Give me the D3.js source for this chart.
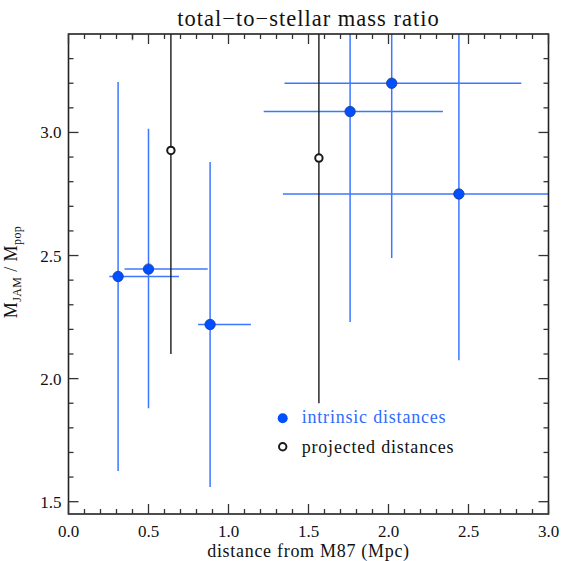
<!DOCTYPE html>
<html>
<head>
<meta charset="utf-8">
<script src="https://cdn.jsdelivr.net/npm/d3@7"></script>
<style>
  html, body { margin: 0; padding: 0; background: #fff; }
  svg { display: block; }
  text { font-family: "Liberation Serif", "DejaVu Serif", serif; fill: #111; }
</style>
</head>
<body>
<script>
// Galaxies with intrinsic (3D) distances from M87
const intrinsicDist    = [0.31, 0.50, 0.885, 1.76, 2.02, 2.44, 0.40];
const intrinsicDistLo  = [0.255, 0.35, 0.81, 1.22, 1.35, 1.34, 0.30];
const intrinsicDistHi  = [0.69, 0.87, 1.14, 2.34, 2.83, 3.20, 0.50];
const intrinsicRatio   = [2.415, 2.445, 2.22, 3.085, 3.20, 2.75, 3.65];
const intrinsicRatioLo = [1.625, 1.88, 1.56, 2.23, 2.49, 2.075, 3.375];
const intrinsicRatioHi = [3.205, 3.015, 2.88, 3.60, 3.60, 3.60, 3.90];

// Galaxies with projected distances only
const projectedDist    = [0.64, 1.565];
const projectedRatio   = [2.927, 2.896];
const projectedRatioLo = [2.10, 1.90];
const projectedRatioHi = [3.60, 3.60];

const xTicks = [0.0, 0.5, 1.0, 1.5, 2.0, 2.5, 3.0];
const yTicks = [1.5, 2.0, 2.5, 3.0];

const W = 567, H = 561;
const x0 = 68.5, x1 = 548.5, yTop = 34, yBot = 514;

const x = d3.scaleLinear().domain([0, 3]).range([x0, x1]);
const y = d3.scaleLinear().domain([1.45, 3.4]).range([yBot, yTop]);

const blueBar = "#3b78ff", bluePt = "#0050ff", ink = "#1a1a1a";

const svg = d3.select("body").append("svg").attr("width", W).attr("height", H);

svg.append("defs").append("clipPath").attr("id", "plot-clip")
  .append("rect").attr("x", x0).attr("y", yTop).attr("width", x1 - x0).attr("height", yBot - yTop);

const plot = svg.append("g").attr("clip-path", "url(#plot-clip)");

const intrinsic = intrinsicDist.map((d, i) => ({
  d, dLo: intrinsicDistLo[i], dHi: intrinsicDistHi[i],
  r: intrinsicRatio[i], rLo: intrinsicRatioLo[i], rHi: intrinsicRatioHi[i]
}));
const projected = projectedDist.map((d, i) => ({
  d, r: projectedRatio[i], rLo: projectedRatioLo[i], rHi: projectedRatioHi[i]
}));

// error bars: intrinsic (blue), horizontal and vertical
plot.append("g").selectAll("line").data(intrinsic).join("line")
  .attr("x1", p => x(p.dLo)).attr("x2", p => x(p.dHi))
  .attr("y1", p => y(p.r)).attr("y2", p => y(p.r))
  .attr("stroke", blueBar).attr("stroke-width", 1.5);
plot.append("g").selectAll("line").data(intrinsic).join("line")
  .attr("x1", p => x(p.d)).attr("x2", p => x(p.d))
  .attr("y1", p => y(p.rLo)).attr("y2", p => y(p.rHi))
  .attr("stroke", blueBar).attr("stroke-width", 1.5);

// error bars: projected (black, vertical only)
plot.append("g").selectAll("line").data(projected).join("line")
  .attr("x1", p => x(p.d)).attr("x2", p => x(p.d))
  .attr("y1", p => y(p.rLo)).attr("y2", p => y(p.rHi))
  .attr("stroke", ink).attr("stroke-width", 1.4);

// markers
plot.append("g").selectAll("circle").data(intrinsic).join("circle")
  .attr("cx", p => x(p.d)).attr("cy", p => y(p.r)).attr("r", 5.2)
  .attr("fill", bluePt).attr("stroke", "#1a3a8a").attr("stroke-width", 0.8);
plot.append("g").selectAll("circle").data(projected).join("circle")
  .attr("cx", p => x(p.d)).attr("cy", p => y(p.r)).attr("r", 3.7)
  .attr("fill", "#fff").attr("stroke", ink).attr("stroke-width", 2);

// frame
svg.append("rect").attr("x", x0).attr("y", yTop).attr("width", x1 - x0).attr("height", yBot - yTop)
  .attr("fill", "none").attr("stroke", "#222").attr("stroke-width", 1.6);

// inward ticks on all four sides
const xMinor = d3.range(0, 3.0001, 0.1).map(v => +v.toFixed(2));
const yMinor = d3.range(1.5, 3.4, 0.1).map(v => +v.toFixed(2));
const isMajor = v => Math.abs(v * 2 - Math.round(v * 2)) < 1e-6;
const tickG = svg.append("g").attr("stroke", "#333").attr("stroke-width", 1.3);
xMinor.forEach(v => {
  const len = isMajor(v) ? 10 : 5;
  tickG.append("line").attr("x1", x(v)).attr("x2", x(v)).attr("y1", yBot).attr("y2", yBot - len);
  tickG.append("line").attr("x1", x(v)).attr("x2", x(v)).attr("y1", yTop).attr("y2", yTop + len);
});
yMinor.forEach(v => {
  const len = isMajor(v) ? 10 : 5;
  tickG.append("line").attr("y1", y(v)).attr("y2", y(v)).attr("x1", x0).attr("x2", x0 + len);
  tickG.append("line").attr("y1", y(v)).attr("y2", y(v)).attr("x1", x1).attr("x2", x1 - len);
});

// tick labels
svg.append("g").selectAll("text").data(xTicks).join("text")
  .attr("x", v => x(v)).attr("y", yBot + 23).attr("text-anchor", "middle")
  .attr("font-size", 17).text(v => v.toFixed(1));
svg.append("g").selectAll("text").data(yTicks).join("text")
  .attr("x", x0 - 7).attr("y", v => y(v) + 6).attr("text-anchor", "end")
  .attr("font-size", 17).text(v => v.toFixed(1));

// titles
svg.append("text").attr("x", (x0 + x1) / 2).attr("y", 26).attr("text-anchor", "middle")
  .attr("font-size", 22.5).attr("letter-spacing", 1.0)
  .text("total\u2212to\u2212stellar mass ratio");
svg.append("text").attr("x", (x0 + x1) / 2).attr("y", 557).attr("text-anchor", "middle")
  .attr("font-size", 18).attr("letter-spacing", 0.7).text("distance from M87 (Mpc)");

const yl = svg.append("text")
  .attr("transform", `translate(17,272) rotate(-90)`)
  .attr("text-anchor", "middle").attr("font-size", 18).attr("letter-spacing", 0.4);
yl.append("tspan").text("M");
yl.append("tspan").attr("font-size", 12).attr("dy", 4).text("JAM");
yl.append("tspan").attr("dy", -4).text(" / M");
yl.append("tspan").attr("font-size", 12).attr("dy", 4).text("pop");

// legend
const legend = svg.append("g").attr("transform", `translate(282.7,418.3)`);
legend.append("circle").attr("cx", 0).attr("cy", 0).attr("r", 5).attr("fill", bluePt);
legend.append("text").attr("x", 19).attr("y", 5).attr("font-size", 18).attr("letter-spacing", 0.8)
  .style("fill", "#2f6bff").text("intrinsic distances");
legend.append("circle").attr("cx", 0).attr("cy", 28.4).attr("r", 3.7)
  .attr("fill", "#fff").attr("stroke", ink).attr("stroke-width", 2);
legend.append("text").attr("x", 19).attr("y", 35).attr("font-size", 18).attr("letter-spacing", 0.8)
  .text("projected distances");
</script>
</body>
</html>
